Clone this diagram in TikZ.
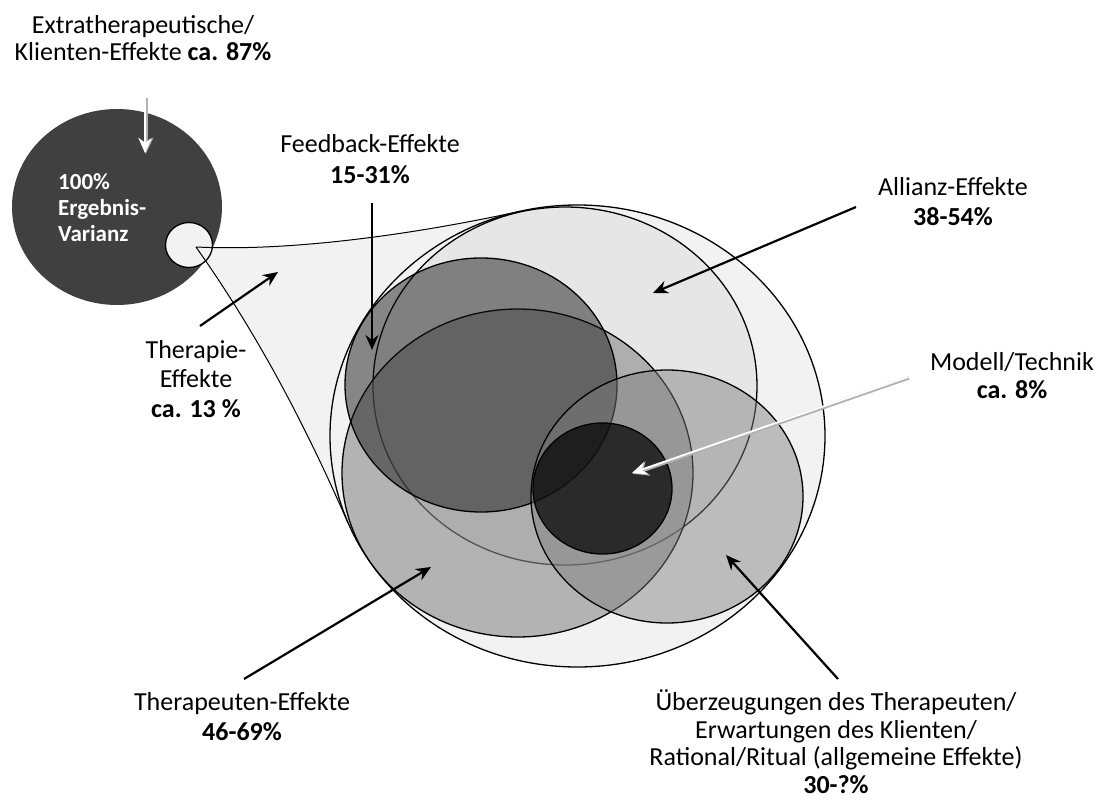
\documentclass[tikz,border=0pt]{standalone}
\usepackage{fontspec}
\setmainfont{Carlito}
\usetikzlibrary{arrows.meta,shapes.geometric}
\definecolor{wedgec}{HTML}{F2F2F2}
\definecolor{allianzc}{HTML}{E6E6E6}
\definecolor{darkc}{HTML}{404040}
\definecolor{therapc}{gray}{0.537}
\definecolor{feedc}{gray}{0.086}
\definecolor{uberc}{gray}{0.49}
\begin{document}
\begin{tikzpicture}[x=1pt,y=-1pt,
  blob/.style={ellipse, inner sep=0pt, outer sep=0pt, draw=black, line width=1.3pt},
  lbl/.style={font=\fontsize{26}{27.5}\selectfont, align=center, anchor=base, inner sep=0pt},
  arr/.style={line width=2.2pt, -{Stealth[length=15pt,width=13pt,inset=5pt]}},
  warr/.style={line width=1.8pt, white, -{Stealth[length=15pt,width=13pt,inset=5pt]}},
  wshadow/.style={line width=3.6pt, black!30, -{Stealth[length=16pt,width=15pt,inset=5pt]}},
  edge/.style={line width=1pt, draw=black},
]
\path[use as bounding box] (0,0) rectangle (1104,803);

% big dark circle
\node (dark) [ellipse, inner sep=0pt, fill=darkc, minimum width=210pt, minimum height=196pt] at (117,207) {};

% wedge fill
\coordinate (tip) at (196,247);
\coordinate (wtop) at (520,211.3);
\coordinate (wbot) at (348,523);
\fill[wedgec] (tip) .. controls (300,252) and (430,231) .. (wtop) -- (wbot)
  .. controls (303,420) and (256,332) .. (tip) -- cycle;

% small circle
\node (small) [blob, fill=wedgec, minimum width=47pt, minimum height=45pt] at (189,245) {};

% wedge edges
\draw[edge] (tip) .. controls (300,252) and (430,231) .. (wtop);
\draw[edge] (tip) .. controls (256,332) and (303,420) .. (wbot);

% outer envelope
\node (outer) [blob, fill=wedgec, minimum width=495pt, minimum height=462pt] at (577.5,436) {};
% Allianz
\node (allianz) [blob, fill=allianzc, minimum width=384pt, minimum height=358pt] at (565,386) {};
% Therapeuten
\node (therap) [blob, fill=therapc, fill opacity=0.6, minimum width=351pt, minimum height=328pt] at (517.5,473) {};
% Feedback
\node (feed) [blob, fill=feedc, fill opacity=0.49, minimum width=272pt, minimum height=254pt] at (481,385) {};
% Ueberzeugungen
\node (uber) [blob, fill=uberc, fill opacity=0.46, minimum width=272pt, minimum height=253pt] at (667,496.5) {};
% Modell
\node (modell) [blob, fill=black, fill opacity=0.72, minimum width=139pt, minimum height=131pt] at (602.5,488.5) {};

% arrow end points
\coordinate (a1s) at (145,97);   \coordinate (a1e) at (145,153);
\coordinate (a2s) at (200,326);  \coordinate (a2e) at (278,272);
\coordinate (a3s) at (372,203);  \coordinate (a3e) at (372,350);
\coordinate (a4s) at (856,207);  \coordinate (a4e) at (653,293);
\coordinate (a5s) at (908,377);  \coordinate (a5e) at (632,473);
\coordinate (a6s) at (244,679);  \coordinate (a6e) at (431,567);
\coordinate (a7s) at (838,679);  \coordinate (a7e) at (726,555);

\draw[wshadow, transform canvas={xshift=0.8pt,yshift=-0.8pt}] (a1s) -- (a1e);
\draw[warr] (a1s) -- (a1e);
\draw[arr] (a2s) -- (a2e);
\draw[arr] (a3s) -- (a3e);
\draw[arr] (a4s) -- (a4e);
\draw[wshadow, transform canvas={xshift=0.8pt,yshift=-0.8pt}] (a5s) -- (a5e);
\draw[warr] (a5s) -- (a5e);
\draw[arr] (a6s) -- (a6e);
\draw[arr] (a7s) -- (a7e);

% labels (anchor = baseline of last line)
\node (t-extra) [lbl, font=\fontsize{26}{27}\selectfont] at (143,60) {Extratherapeutische/\\Klienten-Effekte \textbf{ca. 87\%}};
\node (t-var) [inner sep=0pt, anchor=base west, align=left, text=white, font=\bfseries\fontsize{23}{26}\selectfont] at (58,241) {100\%\\Ergebnis-\\Varianz};
\node (t-feed) [lbl] at (370,183) {Feedback-Effekte\\[3.5pt]\textbf{15-31\%}};
\node (t-therapie) [lbl] at (196,417) {Therapie-\\[2pt]Effekte\\[2pt]\textbf{ca. 13 \%}};
\node (t-allianz) [lbl] at (953,225) {Allianz-Effekte\\[2.5pt]\textbf{38-54\%}};
\node (t-modell) [lbl] at (1012,398) {Modell/Technik\\[0.5pt]\textbf{ca. 8\%}};
\node (t-therapeuten) [lbl] at (242,740) {Therapeuten-Effekte\\[2.5pt]\textbf{46-69\%}};
\node (t-uber) [lbl] at (836,793) {Überzeugungen des Therapeuten/\\Erwartungen des Klienten/\\Rational/Ritual (allgemeine Effekte)\\\textbf{30-?\%}};
\end{tikzpicture}
\end{document}
